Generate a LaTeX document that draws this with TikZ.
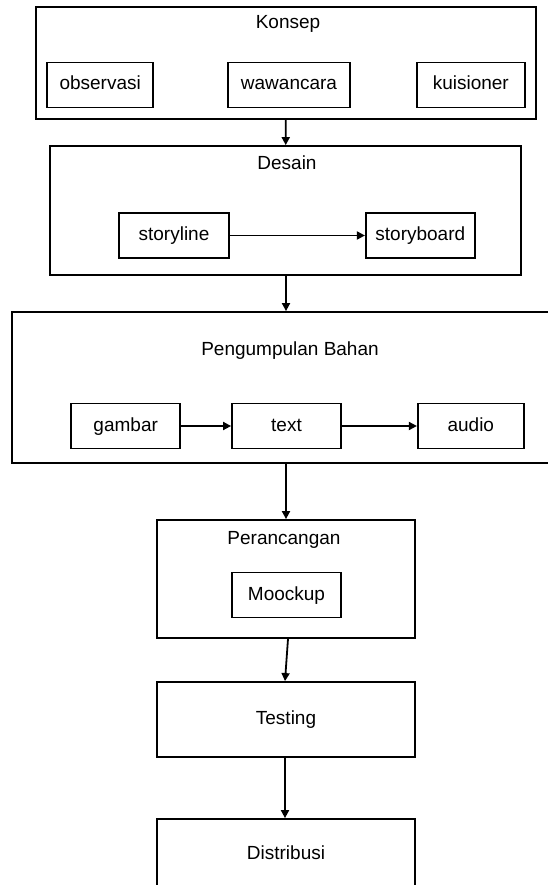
\documentclass[tikz,border=0pt]{standalone}
\usepackage{fontspec}
\setmainfont{Liberation Sans}
\usepackage{tikz}
\usetikzlibrary{positioning}
\usetikzlibrary{arrows.meta}

\begin{document}
\begin{tikzpicture}[x=1pt, y=-1pt,
		every node/.style={font=\fontsize{19}{22}\selectfont,
			text height=14pt, text depth=4pt},
		box/.style={draw, line width=1.8pt, inner sep=0pt, minimum height=45pt},
		group/.style={draw, line width=1.8pt, inner sep=0pt},
		>={Triangle[length=8pt, width=8pt]}]
		\useasboundingbox (0,0) rectangle (547,885);

		% tahap konsep
		\node [group, minimum width=500pt, minimum height=112pt] (konsep) at (286,63) {};
		\node (konseptitle) at (288,24) {Konsep};
		\node [box, minimum width=122pt] (wawancara) at (289,85) {wawancara};
		\node [box, minimum width=106pt, left=73pt of wawancara] (observasi) {observasi};
		\node [box, minimum width=108pt, right=65pt of wawancara] (kuisioner) {kuisioner};

		% tahap desain
		\node [group, minimum width=471pt, minimum height=129pt] (desain) at (285.5,210.5) {};
		\node (desaintitle) at (287,165) {Desain};
		\node [box, minimum width=110pt] (storyline) at (174,235.5) {storyline};
		\node [box, minimum width=109pt, right=135pt of storyline] (storyboard) {storyboard};

		% pengumpulan bahan
		\node [group, minimum width=542pt, minimum height=151pt] (bahan) at (283,387.5) {};
		\node (bahantitle) at (290,350) {Pengumpulan Bahan};
		\node [box, minimum width=109pt] (text) at (286.5,426) {text};
		\node [box, minimum width=109pt, left=50pt of text] (gambar) {gambar};
		\node [box, minimum width=106pt, right=75pt of text] (audio) {audio};

		% perancangan
		\node [group, minimum width=258pt, minimum height=118pt] (perancangan) at (286,579) {};
		\node (perancangantitle) at (284,539) {Perancangan};
		\node [box, minimum width=109pt] (moockup) at (286.5,595) {Moockup};

		% testing dan distribusi
		\node [group, minimum width=258pt, minimum height=75pt] (testing) at (286,719.5) {Testing};
		\node [group, minimum width=258pt, minimum height=70pt] (distribusi) at (286,854) {Distribusi};

		\path [->, line width=1.8pt]
			(konsep) edge [line width=1.8pt] (desain)
			(storyline) edge [line width=1.8pt] (storyboard)
			(desain.south -| konsep.south) edge [line width=1.8pt] (bahan.north -| konsep.south)
			(gambar) edge [line width=1.8pt] (text)
			(text) edge [line width=1.8pt] (audio)
			(bahan.south -| konsep.south) edge [line width=1.8pt] (perancangan)
			([xshift=2pt]perancangan.south) edge [line width=1.8pt] ([xshift=-1pt]testing.north)
			([xshift=-1pt]testing.south) edge [line width=1.8pt] ([xshift=-1pt]distribusi.north);
	\end{tikzpicture}
\end{document}
